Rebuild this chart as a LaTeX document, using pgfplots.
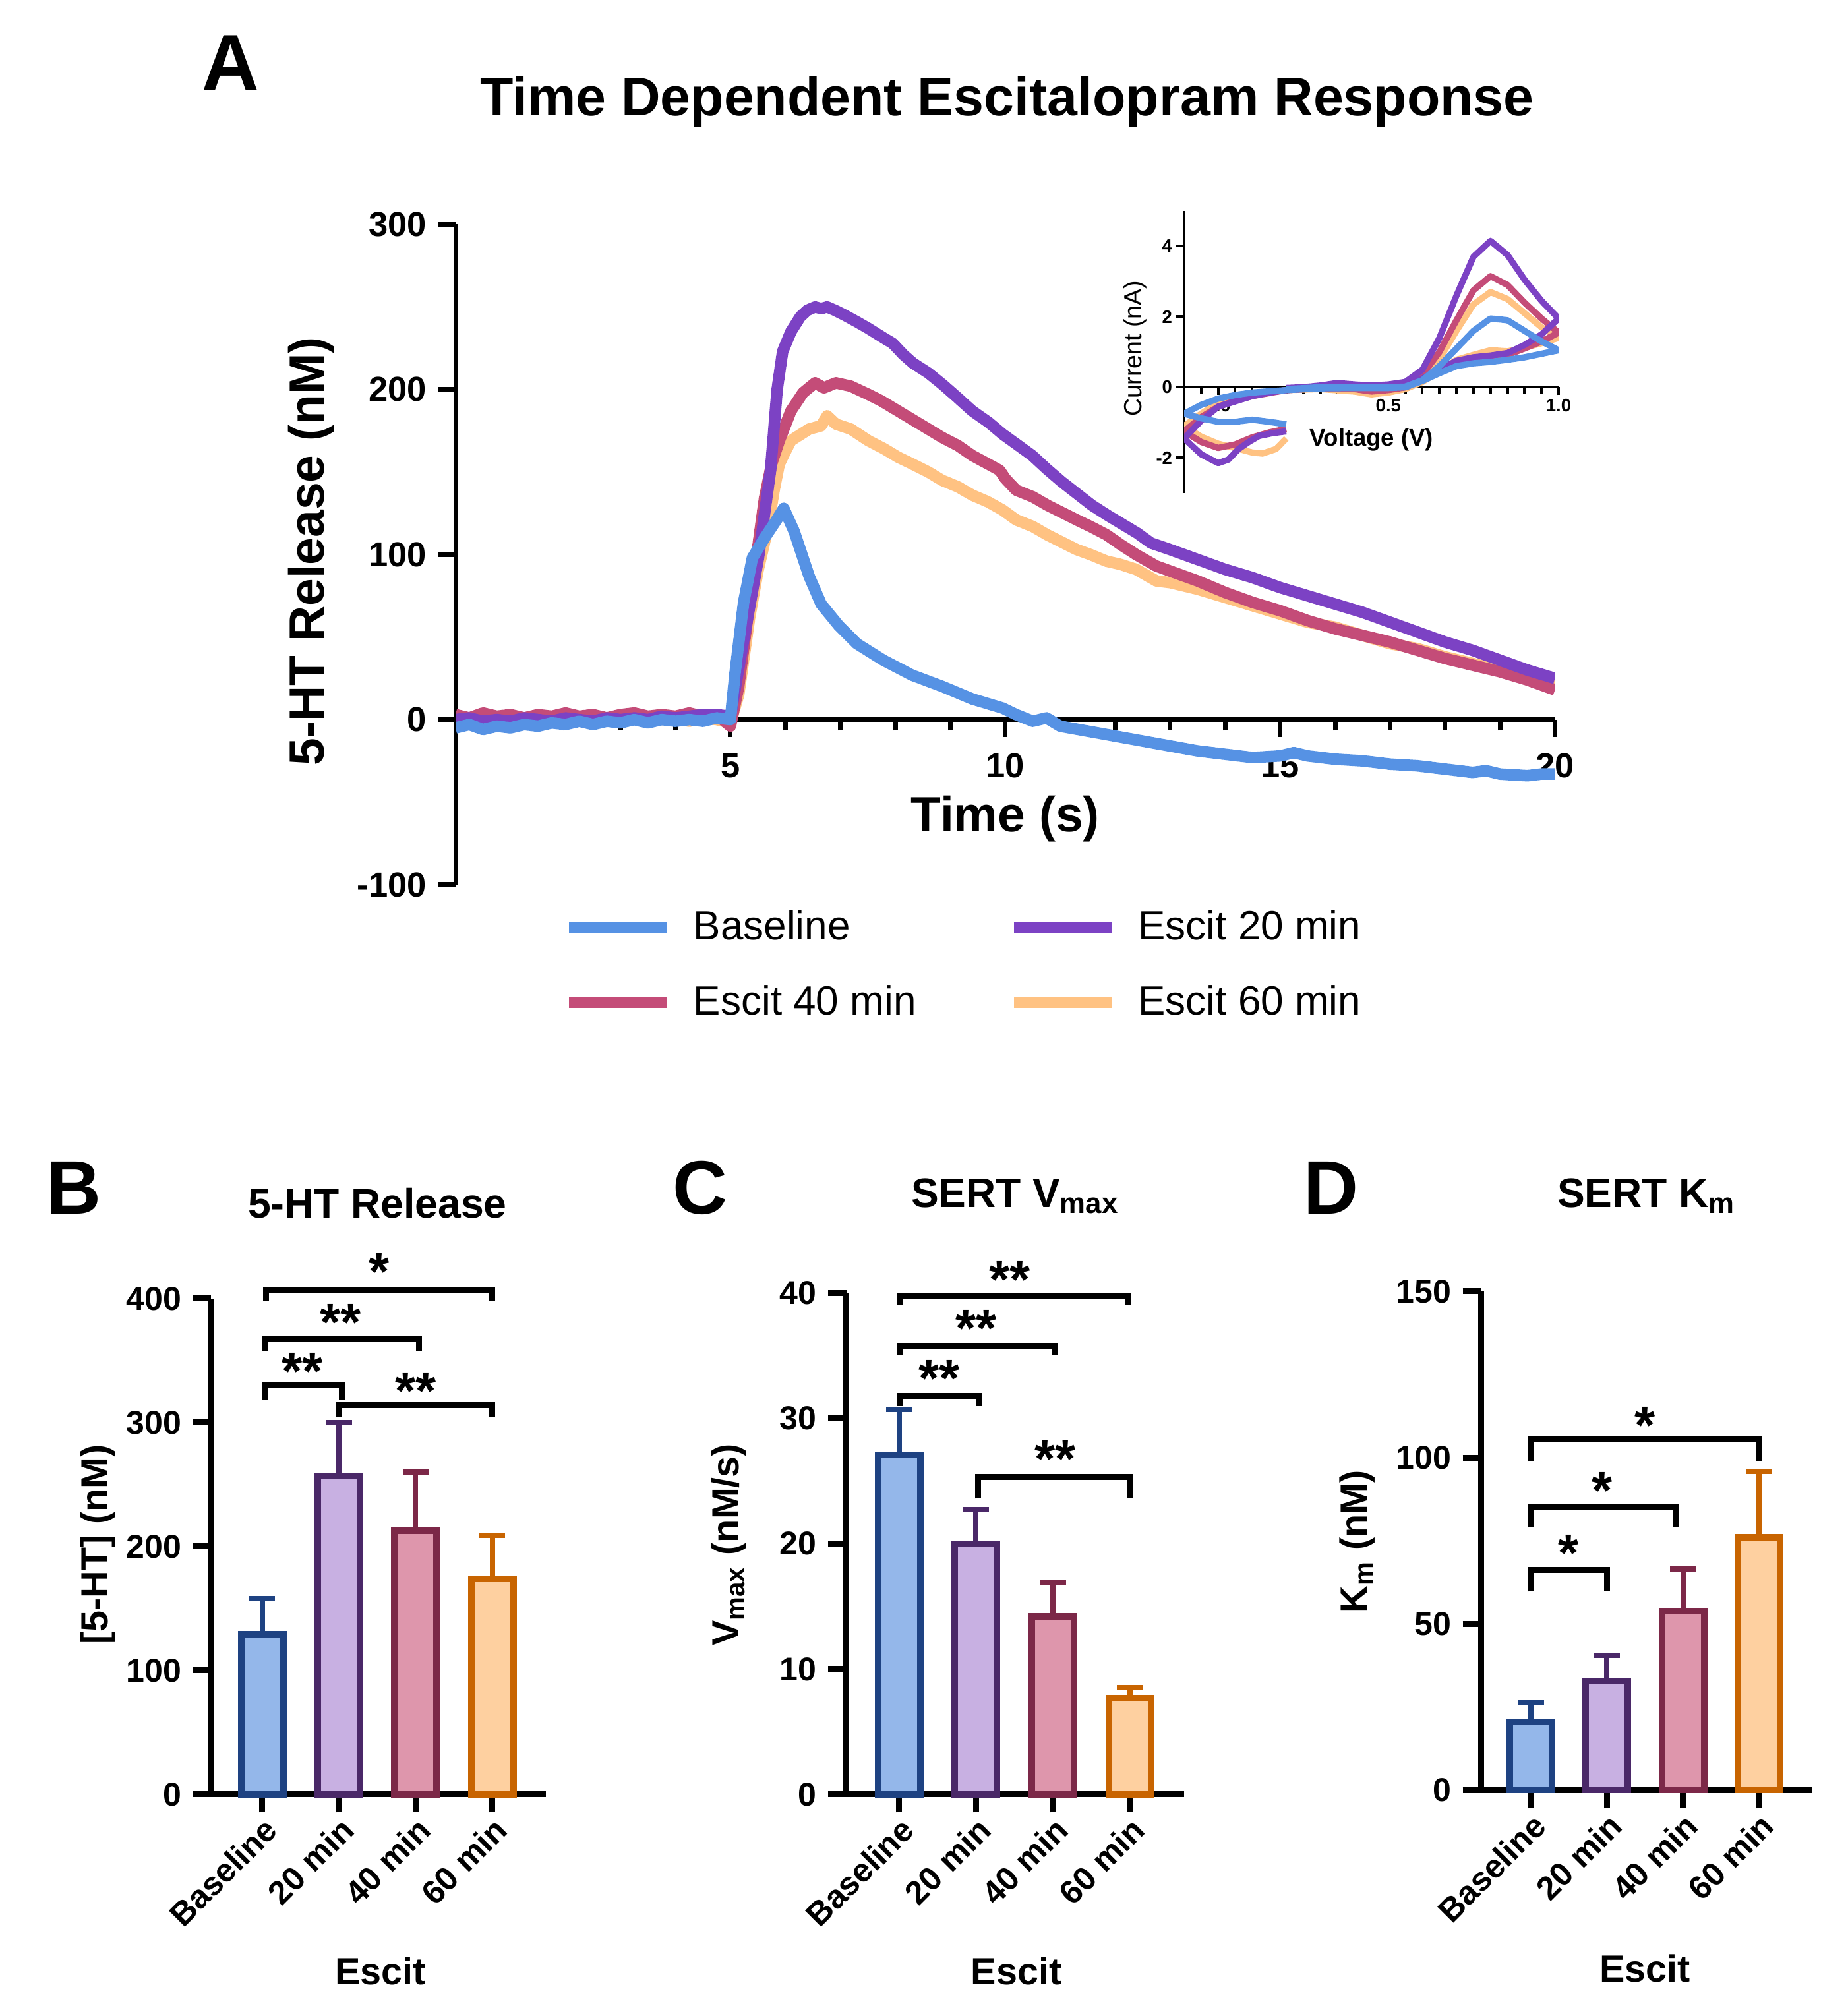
\documentclass[border=0pt]{standalone}
\usepackage{fontspec}
\setmainfont{Liberation Sans}
\usepackage{pgfplots}
\pgfplotsset{compat=1.18}

\definecolor{cBase}{RGB}{86,146,228}
\definecolor{cE20}{RGB}{124,66,196}
\definecolor{cE40}{RGB}{196,76,120}
\definecolor{cE60}{RGB}{255,194,130}
\definecolor{fBase}{RGB}{148,183,234}
\definecolor{dBase}{RGB}{30,66,130}
\definecolor{fE20}{RGB}{200,176,226}
\definecolor{dE20}{RGB}{74,40,104}
\definecolor{fE40}{RGB}{222,150,172}
\definecolor{dE40}{RGB}{124,40,72}
\definecolor{fE60}{RGB}{254,208,160}
\definecolor{dE60}{RGB}{200,100,0}

\tikzset{starnode/.style={font=\fontsize{16}{16}\selectfont\bfseries, anchor=base, yshift=-9pt, inner sep=0pt}}

\pgfplotsset{
  barpanel/.style={
    scale only axis, ybar, bar shift=0pt, bar width=12.8pt, ymin=0,
    axis x line*=bottom, axis y line*=left,
    axis line style={line width=1.8pt,-},
    every tick/.style={black, line width=1.8pt},
    tick align=outside, major tick length=5.5pt,
    xtick={0,1,2,3}, xticklabels={Baseline,20 min,40 min,60 min},
    /pgf/number format/assume math mode=true,
    ticklabel style={font=\fontsize{10}{12}\selectfont\bfseries},
    xticklabel style={rotate=45, anchor=north east, inner sep=0.5pt},
    label style={font=\fontsize{11.5}{13}\selectfont\bfseries},
    xlabel={Escit},
    clip=false, enlargelimits=false,
  },
  bracket/.style={sharp plot, black, line width=1.8pt, mark=none, forget plot, line join=miter},
}

\begin{document}
\begin{tikzpicture}
\path[use as bounding box] (0,0) rectangle (560.4pt,609.2pt);

\node[font=\fontsize{24}{24}\selectfont\bfseries, anchor=base] at (70pt,581.9pt) {A};
\node[font=\fontsize{16.5}{18}\selectfont\bfseries, anchor=base] at (305.5pt,574.1pt) {Time Dependent Escitalopram Response};

% ---------------- main panel A ----------------
\begin{axis}[
  at={(138.2pt,340.8pt)}, anchor=south west, scale only axis,
  width=333.5pt, height=200.3pt,
  xmin=0, xmax=20, ymin=-100, ymax=300,
  axis x line=middle, axis y line=left,
  axis line style={line width=1.4pt,-},
  xtick={5,10,15,20}, minor xtick={1,2,3,4,6,7,8,9,11,12,13,14,16,17,18,19},
  ytick={-100,0,100,200,300},
  tick align=outside,
  major tick length=5.3pt, minor tick length=3.3pt,
  every tick/.style={black, line width=1.4pt},
  /pgf/number format/assume math mode=true,
  ticklabel style={font=\fontsize{10.5}{12}\selectfont\bfseries},
  xticklabel style={yshift=-1.5pt},
  xlabel={Time (s)}, ylabel={5-HT Release (nM)},
  label style={font=\fontsize{15}{17}\selectfont\bfseries},
  xlabel style={at={(axis description cs:0.5,0.1)}, anchor=center},
  ylabel style={at={(axis description cs:-0.131,0.505)}, anchor=center},
  legend columns=2,
  legend cell align=left,
  legend image code/.code={\draw[#1] (0pt,0pt) -- (29.6pt,0pt);},
  legend style={at={(axis description cs:0.0977,-0.038)}, anchor=north west,
    draw=none, fill=none, inner sep=0pt,
    font=\fontsize{12.4}{14}\selectfont,
    nodes={inner sep=0pt},
    row sep=12.2pt,
    /tikz/every odd column/.append style={column sep=6.5pt},
    /tikz/every even column/.append style={column sep=28pt}},
]
\addlegendimage{cBase, line width=3.3pt}
\addlegendentry{Baseline}
\addlegendimage{cE20, line width=3.3pt}
\addlegendentry{Escit 20 min}
\addlegendimage{cE40, line width=3.3pt}
\addlegendentry{Escit 40 min}
\addlegendimage{cE60, line width=3.3pt}
\addlegendentry{Escit 60 min}

% Escit 60 min
\addplot[cE60, line width=3.5pt, forget plot, line join=round] coordinates {
(0,1) (0.25,-1) (0.5,0) (0.75,2) (1,0) (1.25,-1) (1.5,1) (1.75,0) (2,2) (2.25,0)
(2.5,1) (2.75,-1) (3,1) (3.25,0) (3.5,2) (3.75,0) (4,1) (4.25,-1) (4.5,1) (4.75,0)
(5.0,-2) (5.15,15) (5.35,62) (5.5,90) (5.68,116) (5.8,140) (5.89,155) (6.1,169)
(6.43,176) (6.65,178) (6.76,184) (6.92,179) (7.19,176) (7.51,169) (7.8,164) (8.05,159)
(8.3,155) (8.6,150) (8.85,145) (9.14,141) (9.4,136) (9.68,132) (9.95,127) (10.2,121)
(10.5,117) (10.76,112) (11.0,108) (11.3,103) (11.55,100) (11.84,96) (12.1,94) (12.38,91)
(12.75,84) (13,83) (13.5,79) (14,74) (14.5,69) (15,64) (15.5,59) (16,56) (16.5,51)
(17,46) (17.5,43) (18,38) (18.5,34) (19,30) (19.5,26) (20,22)
};
% Escit 40 min
\addplot[cE40, line width=3.5pt, forget plot, line join=round] coordinates {
(0,3) (0.25,1) (0.5,4) (0.75,2) (1,3) (1.25,1) (1.5,3) (1.75,2) (2,4) (2.25,2)
(2.5,3) (2.75,1) (3,3) (3.25,4) (3.5,2) (3.75,3) (4,2) (4.25,4) (4.5,2) (4.75,3)
(5.0,-4) (5.15,20) (5.35,71) (5.5,105) (5.62,134) (5.75,155) (5.89,169) (6.1,187)
(6.32,198) (6.54,204) (6.7,201) (6.92,204) (7.19,202) (7.51,197) (7.75,193) (8.05,187)
(8.3,182) (8.6,176) (8.85,171) (9.14,166) (9.4,160) (9.68,155) (9.9,151) (10.0,146)
(10.2,139) (10.5,135) (10.76,130) (11.0,126) (11.3,121) (11.55,117) (11.84,112)
(12.1,106) (12.38,100) (12.75,93) (13,90) (13.5,84) (14,77) (14.5,71) (15,66)
(15.5,60) (16,55) (16.5,51) (17,47) (17.5,42) (18,37) (18.5,33) (19,29) (19.5,24) (20,18)
};
% Escit 20 min
\addplot[cE20, line width=3.5pt, forget plot, line join=round] coordinates {
(0,0) (0.25,1) (0.5,-1) (0.75,0) (1,-1) (1.25,1) (1.5,0) (1.75,-1) (2,1) (2.25,0)
(2.5,-1) (2.75,1) (3,0) (3.25,1) (3.5,0) (3.75,2) (4,1) (4.25,2) (4.5,3) (4.75,3)
(5,2) (5.25,50) (5.51,98) (5.73,151) (5.85,200) (5.95,223) (6.1,235) (6.27,244)
(6.4,248) (6.54,250) (6.65,249) (6.76,250) (6.9,248) (7.08,245) (7.3,241) (7.51,237)
(7.75,232) (7.95,228) (8.15,221) (8.32,216) (8.6,210) (8.86,203) (9.1,196) (9.4,187)
(9.7,180) (9.95,173) (10.2,167) (10.49,160) (10.75,152) (11.03,144) (11.3,137)
(11.57,130) (11.85,124) (12.1,119) (12.4,113) (12.65,107) (13,103) (13.5,97) (14,91)
(14.5,86) (15,80) (15.5,75) (16,70) (16.5,65) (17,59) (17.5,53) (18,47) (18.5,42)
(19,36) (19.5,30) (20,25)
};
% Baseline
\addplot[cBase, line width=3.5pt, forget plot, line join=round] coordinates {
(0,-5) (0.25,-3) (0.5,-6) (0.75,-4) (1,-5) (1.25,-3) (1.5,-4) (1.75,-2) (2,-3) (2.25,-1)
(2.5,-3) (2.75,-1) (3,-2) (3.25,0) (3.5,-2) (3.75,0) (4,-1) (4.25,0) (4.5,-1) (4.75,1)
(5.0,0) (5.08,27) (5.24,71) (5.4,98) (5.62,110) (5.84,121) (5.97,128) (6.16,114)
(6.43,87) (6.65,70) (6.97,57) (7.3,46) (7.78,36) (8.3,27) (8.86,20) (9.4,12.5)
(9.95,7) (10.2,3) (10.5,-1) (10.75,1) (11.0,-4) (11.5,-7) (12,-10) (12.5,-13)
(13,-16) (13.5,-19) (14,-21) (14.5,-23) (15,-22) (15.25,-20) (15.5,-22) (16,-24)
(16.5,-25) (17,-27) (17.5,-28) (18,-30) (18.5,-32) (18.75,-31) (19,-33) (19.5,-34)
(19.75,-33) (20,-33)
};
\end{axis}

% ---------------- inset ----------------
\begin{axis}[
  at={(359.2pt,459.6pt)}, anchor=south west, scale only axis,
  width=113.6pt, height=85.6pt,
  xmin=-0.1, xmax=1, ymin=-3, ymax=5,
  axis x line=middle, axis y line=left,
  axis line style={line width=0.8pt,-},
  xtick={0,0.5,1},
  minor xtick={-0.05,0.05,0.1,0.15,0.2,0.25,0.3,0.35,0.4,0.45,0.55,0.6,0.65,0.7,0.75,0.8,0.85,0.9,0.95},
  ytick={-2,0,2,4},
  tick align=outside, major tick length=2.4pt, minor tick length=2pt,
  every tick/.style={black, line width=0.8pt},
  /pgf/number format/assume math mode=true,
  ticklabel style={font=\fontsize{5.5}{6}\selectfont\bfseries, inner sep=1pt},
  xticklabel style={/pgf/number format/.cd, fixed, fixed zerofill, precision=1},
  xlabel={Voltage (V)}, ylabel={Current (nA)},
  xlabel style={font=\fontsize{7.3}{8}\selectfont\bfseries, at={(axis description cs:0.5,0.19)}, anchor=center},
  ylabel style={font=\fontsize{7.5}{8}\selectfont, at={(axis description cs:-0.13,0.512)}, anchor=center},
]
\addplot[cE60, line width=1.9pt, line join=round] coordinates {
(0.2,-0.05) (0.3,-0.05) (0.4,-0.1) (0.45,-0.15) (0.5,-0.12) (0.55,0.0) (0.6,0.25) (0.65,0.8)
(0.7,1.6) (0.75,2.35) (0.8,2.7) (0.85,2.5) (0.9,2.1) (0.95,1.7) (1.0,1.4)
(0.95,1.25) (0.9,1.12) (0.85,1.02) (0.8,1.05) (0.75,0.92) (0.7,0.78) (0.65,0.45) (0.6,0.15)
(0.55,-0.05) (0.5,-0.15) (0.45,-0.2) (0.4,-0.12) (0.3,-0.05) (0.2,-0.08) (0.1,-0.2)
(0.05,-0.3) (0.0,-0.45) (-0.05,-0.75) (-0.1,-1.1)
(-0.05,-1.4) (0.0,-1.6) (0.05,-1.72) (0.1,-1.85) (0.13,-1.88) (0.17,-1.75) (0.2,-1.45)
};
\addplot[cE40, line width=1.9pt, line join=round] coordinates {
(0.2,-0.05) (0.3,-0.02) (0.4,0.0) (0.45,-0.05) (0.5,0.0) (0.55,0.08) (0.6,0.35) (0.65,1.0)
(0.7,1.9) (0.75,2.75) (0.8,3.15) (0.85,2.9) (0.9,2.4) (0.95,1.95) (1.0,1.55)
(0.95,1.3) (0.9,1.1) (0.85,0.92) (0.8,0.85) (0.75,0.8) (0.7,0.7) (0.65,0.45) (0.6,0.2)
(0.55,0.0) (0.5,-0.08) (0.45,-0.12) (0.4,-0.05) (0.3,-0.03) (0.2,-0.08) (0.1,-0.25)
(0.05,-0.38) (0.0,-0.55) (-0.05,-0.85) (-0.1,-1.25)
(-0.05,-1.55) (0.0,-1.72) (0.05,-1.62) (0.1,-1.42) (0.15,-1.28) (0.2,-1.18)
};
\addplot[cE20, line width=1.9pt, line join=round] coordinates {
(0.2,-0.02) (0.25,0.0) (0.3,0.05) (0.35,0.12) (0.4,0.08) (0.45,0.05) (0.5,0.08) (0.55,0.15)
(0.6,0.5) (0.65,1.4) (0.7,2.6) (0.75,3.7) (0.8,4.15) (0.85,3.75) (0.9,3.05) (0.95,2.45) (1.0,1.95)
(0.95,1.5) (0.9,1.2) (0.85,0.97) (0.8,0.9) (0.75,0.85) (0.7,0.75) (0.65,0.5) (0.6,0.25)
(0.55,0.05) (0.5,0.0) (0.45,0.02) (0.4,0.0) (0.3,-0.02) (0.2,-0.08) (0.15,-0.15)
(0.1,-0.25) (0.05,-0.4) (0.0,-0.55) (-0.05,-0.95) (-0.1,-1.45)
(-0.05,-1.9) (0.0,-2.15) (0.03,-2.05) (0.06,-1.75) (0.09,-1.55) (0.12,-1.38) (0.16,-1.3) (0.2,-1.25)
};
\addplot[cBase, line width=1.9pt, line join=round] coordinates {
(0.2,-0.05) (0.3,0.0) (0.4,0.0) (0.5,0.0) (0.55,0.02) (0.6,0.2) (0.65,0.6) (0.7,1.1)
(0.75,1.6) (0.8,1.95) (0.85,1.9) (0.9,1.6) (0.95,1.3) (1.0,1.05)
(0.95,0.95) (0.9,0.85) (0.85,0.78) (0.8,0.72) (0.75,0.68) (0.7,0.6) (0.65,0.4) (0.6,0.18)
(0.55,0.0) (0.5,-0.02) (0.4,-0.02) (0.3,-0.03) (0.2,-0.08) (0.1,-0.15) (0.05,-0.22)
(0.0,-0.32) (-0.05,-0.5) (-0.1,-0.75)
(-0.05,-0.88) (0.0,-0.98) (0.05,-0.98) (0.1,-0.92) (0.15,-0.98) (0.2,-1.05)
};
\end{axis}

% ---------------- panel letters and titles ----------------
\node[font=\fontsize{23}{23}\selectfont\bfseries, anchor=base] at (22.4pt,240.8pt) {B};
\node[font=\fontsize{23}{23}\selectfont\bfseries, anchor=base] at (212.5pt,240.8pt) {C};
\node[font=\fontsize{23}{23}\selectfont\bfseries, anchor=base] at (403.7pt,240.8pt) {D};
\node[font=\fontsize{12.5}{14}\selectfont\bfseries, anchor=base] at (114.5pt,239.7pt) {5-HT Release};
\node[font=\fontsize{12.5}{14}\selectfont\bfseries, anchor=base] at (308pt,242.8pt) {SERT V\textsubscript{max}};
\node[font=\fontsize{12.5}{14}\selectfont\bfseries, anchor=base] at (499.5pt,242.8pt) {SERT K\textsubscript{m}};

% ---------------- panel B ----------------
\begin{axis}[barpanel,
  at={(64pt,64.8pt)}, anchor=south west,
  width=101.6pt, height=150.4pt,
  xmin=-0.67, xmax=3.70, ymax=400,
  ytick={0,100,200,300,400},
  ylabel={\mbox{[5-HT] (nM)}},
  ylabel style={at={(axis description cs:-0.337,0.504)}, anchor=center},
  xlabel style={at={(axis description cs:0.506,-0.356)}, anchor=center},
]
\addplot[fill=fBase, draw=dBase, line width=2pt, error bars/.cd, y dir=plus, y explicit,
  error bar style={line width=1.6pt, draw=dBase}, error mark options={rotate=90, mark size=3.9pt, line width=1.6pt, draw=dBase}]
  coordinates {(0,129) +- (0,29)};
\addplot[fill=fE20, draw=dE20, line width=2pt, error bars/.cd, y dir=plus, y explicit,
  error bar style={line width=1.6pt, draw=dE20}, error mark options={rotate=90, mark size=3.9pt, line width=1.6pt, draw=dE20}]
  coordinates {(1,257) +- (0,43)};
\addplot[fill=fE40, draw=dE40, line width=2pt, error bars/.cd, y dir=plus, y explicit,
  error bar style={line width=1.6pt, draw=dE40}, error mark options={rotate=90, mark size=3.9pt, line width=1.6pt, draw=dE40}]
  coordinates {(2,213) +- (0,47)};
\addplot[fill=fE60, draw=dE60, line width=2pt, error bars/.cd, y dir=plus, y explicit,
  error bar style={line width=1.6pt, draw=dE60}, error mark options={rotate=90, mark size=3.9pt, line width=1.6pt, draw=dE60}]
  coordinates {(3,174) +- (0,35)};
\addplot[bracket] coordinates {(0.03,318) (0.03,330) (1.04,330) (1.04,318)};
\addplot[bracket] coordinates {(0.03,358) (0.03,368) (2.04,368) (2.04,358)};
\addplot[bracket] coordinates {(0.05,398) (0.05,407) (3.0,407) (3.0,398)};
\addplot[bracket] coordinates {(1.0,305) (1.0,314) (3.0,314) (3.0,305)};
\node[starnode] at (axis cs:0.52,351) {**};
\node[starnode] at (axis cs:1.02,390) {**};
\node[starnode] at (axis cs:1.52,431) {*};
\node[starnode] at (axis cs:2.0,335) {**};
\end{axis}

% ---------------- panel C ----------------
\begin{axis}[barpanel,
  at={(256.7pt,64.8pt)}, anchor=south west,
  width=102.4pt, height=152.1pt,
  xmin=-0.686, xmax=3.70, ymax=40,
  ytick={0,10,20,30,40},
  ylabel={V\textsubscript{max} (nM/s)},
  ylabel style={at={(axis description cs:-0.347,0.498)}, anchor=center},
  xlabel style={at={(axis description cs:0.504,-0.352)}, anchor=center},
]
\addplot[fill=fBase, draw=dBase, line width=2pt, error bars/.cd, y dir=plus, y explicit,
  error bar style={line width=1.6pt, draw=dBase}, error mark options={rotate=90, mark size=3.9pt, line width=1.6pt, draw=dBase}]
  coordinates {(0,27.1) +- (0,3.6)};
\addplot[fill=fE20, draw=dE20, line width=2pt, error bars/.cd, y dir=plus, y explicit,
  error bar style={line width=1.6pt, draw=dE20}, error mark options={rotate=90, mark size=3.9pt, line width=1.6pt, draw=dE20}]
  coordinates {(1,20.0) +- (0,2.7)};
\addplot[fill=fE40, draw=dE40, line width=2pt, error bars/.cd, y dir=plus, y explicit,
  error bar style={line width=1.6pt, draw=dE40}, error mark options={rotate=90, mark size=3.9pt, line width=1.6pt, draw=dE40}]
  coordinates {(2,14.2) +- (0,2.7)};
\addplot[fill=fE60, draw=dE60, line width=2pt, error bars/.cd, y dir=plus, y explicit,
  error bar style={line width=1.6pt, draw=dE60}, error mark options={rotate=90, mark size=3.9pt, line width=1.6pt, draw=dE60}]
  coordinates {(3,7.7) +- (0,0.8)};
\addplot[bracket] coordinates {(0.02,31.0) (0.02,31.8) (1.04,31.8) (1.04,31.0)};
\addplot[bracket] coordinates {(0.02,35.1) (0.02,35.8) (2.02,35.8) (2.02,35.1)};
\addplot[bracket] coordinates {(0.02,39.1) (0.02,39.8) (2.98,39.8) (2.98,39.1)};
\addplot[bracket] coordinates {(1.03,23.6) (1.03,25.3) (3.0,25.3) (3.0,23.6)};
\node[starnode] at (axis cs:0.52,34.1) {**};
\node[starnode] at (axis cs:1.0,38.1) {**};
\node[starnode] at (axis cs:1.44,42.0) {**};
\node[starnode] at (axis cs:2.03,27.7) {**};
\end{axis}

% ---------------- panel D ----------------
\begin{axis}[barpanel,
  at={(449.2pt,66.1pt)}, anchor=south west,
  width=100.3pt, height=151.3pt,
  xmin=-0.66, xmax=3.69, ymax=150,
  ytick={0,50,100,150},
  ylabel={K\textsubscript{m} (nM)},
  ylabel style={at={(axis description cs:-0.374,0.498)}, anchor=center},
  xlabel style={at={(axis description cs:0.497,-0.357)}, anchor=center},
]
\addplot[fill=fBase, draw=dBase, line width=2pt, error bars/.cd, y dir=plus, y explicit,
  error bar style={line width=1.6pt, draw=dBase}, error mark options={rotate=90, mark size=3.9pt, line width=1.6pt, draw=dBase}]
  coordinates {(0,20.5) +- (0,5.8)};
\addplot[fill=fE20, draw=dE20, line width=2pt, error bars/.cd, y dir=plus, y explicit,
  error bar style={line width=1.6pt, draw=dE20}, error mark options={rotate=90, mark size=3.9pt, line width=1.6pt, draw=dE20}]
  coordinates {(1,32.8) +- (0,7.7)};
\addplot[fill=fE40, draw=dE40, line width=2pt, error bars/.cd, y dir=plus, y explicit,
  error bar style={line width=1.6pt, draw=dE40}, error mark options={rotate=90, mark size=3.9pt, line width=1.6pt, draw=dE40}]
  coordinates {(2,53.9) +- (0,12.7)};
\addplot[fill=fE60, draw=dE60, line width=2pt, error bars/.cd, y dir=plus, y explicit,
  error bar style={line width=1.6pt, draw=dE60}, error mark options={rotate=90, mark size=3.9pt, line width=1.6pt, draw=dE60}]
  coordinates {(3,76.1) +- (0,19.7)};
\addplot[bracket] coordinates {(0,59.7) (0,66.2) (1.0,66.2) (1.0,59.7)};
\addplot[bracket] coordinates {(0,79) (0,85) (1.91,85) (1.91,79)};
\addplot[bracket] coordinates {(0,99) (0,105.6) (3.0,105.6) (3.0,99)};
\node[starnode] at (axis cs:0.49,74.8) {*};
\node[starnode] at (axis cs:0.94,93.6) {*};
\node[starnode] at (axis cs:1.5,113.3) {*};
\end{axis}
\end{tikzpicture}
\end{document}
